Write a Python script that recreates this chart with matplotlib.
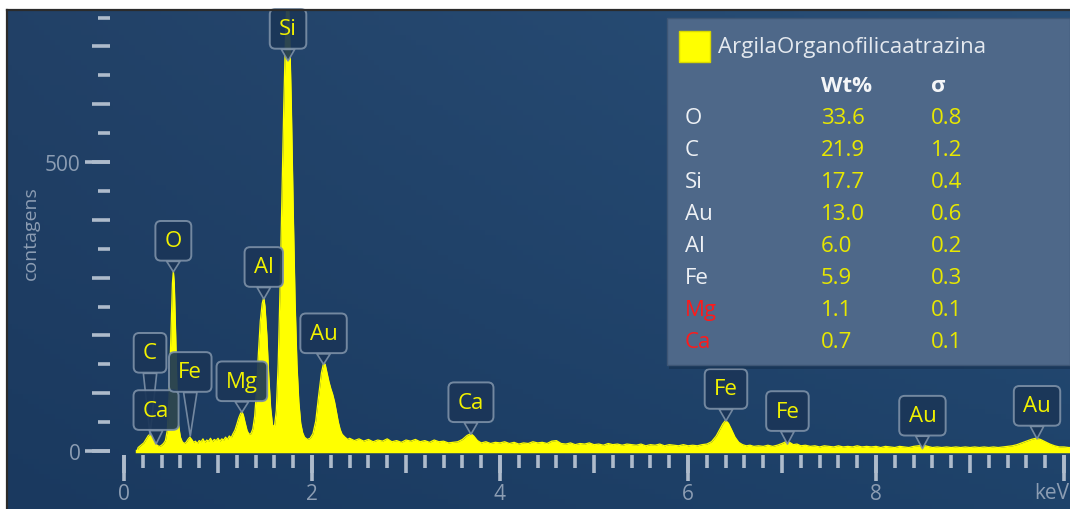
import numpy as np
import matplotlib.pyplot as plt
from matplotlib.patches import Rectangle
from matplotlib.lines import Line2D
from matplotlib.ticker import FixedLocator

plt.rcParams['font.family'] = ['Open Sans', 'DejaVu Sans']

# espectro (keV, contagens)
energy_kev = [0.14, 0.15, 0.18, 0.21, 0.24, 0.26, 0.28, 0.30, 0.32, 0.34, 0.36, 0.38,
              0.40, 0.42, 0.44, 0.46, 0.48, 0.50, 0.515, 0.525, 0.535, 0.55, 0.565, 0.58,
              0.60, 0.62, 0.64, 0.66, 0.68, 0.70, 0.72, 0.74, 0.76, 0.78, 0.80, 0.82,
              0.84, 0.86, 0.88, 0.90, 0.92, 0.94, 0.96, 0.98, 1.00, 1.02, 1.04, 1.06,
              1.08, 1.10, 1.12, 1.14, 1.16, 1.18, 1.20, 1.22, 1.24, 1.255, 1.27, 1.29,
              1.31, 1.33, 1.35, 1.37, 1.39, 1.41, 1.43, 1.45, 1.47, 1.487, 1.50, 1.52,
              1.54, 1.56, 1.58, 1.60, 1.62, 1.64, 1.66, 1.68, 1.70, 1.72, 1.74, 1.76,
              1.78, 1.80, 1.82, 1.84, 1.86, 1.88, 1.90, 1.92, 1.95, 1.98, 2.01, 2.04,
              2.07, 2.10, 2.123, 2.14, 2.16, 2.18, 2.20, 2.22, 2.24, 2.26, 2.28, 2.30,
              2.32, 2.35, 2.38, 2.40, 2.45, 2.50, 2.55, 2.60, 2.65, 2.70, 2.75, 2.80,
              2.85, 2.90, 2.95, 3.00, 3.05, 3.10, 3.15, 3.20, 3.25, 3.30, 3.35, 3.40,
              3.45, 3.50, 3.55, 3.60, 3.65, 3.69, 3.72, 3.76, 3.80, 3.85, 3.90, 3.95,
              4.00, 4.05, 4.10, 4.15, 4.20, 4.25, 4.30, 4.35, 4.40, 4.45, 4.50, 4.55,
              4.60, 4.65, 4.70, 4.75, 4.80, 4.85, 4.90, 4.95, 5.00, 5.05, 5.10, 5.15,
              5.20, 5.25, 5.30, 5.35, 5.40, 5.45, 5.50, 5.55, 5.60, 5.65, 5.70, 5.75,
              5.80, 5.85, 5.90, 5.95, 6.00, 6.05, 6.10, 6.15, 6.20, 6.25, 6.30, 6.34,
              6.37, 6.40, 6.43, 6.46, 6.50, 6.54, 6.58, 6.62, 6.66, 6.70, 6.75, 6.80,
              6.85, 6.90, 6.95, 7.00, 7.04, 7.08, 7.12, 7.16, 7.20, 7.25, 7.30, 7.35,
              7.40, 7.45, 7.50, 7.55, 7.60, 7.65, 7.70, 7.75, 7.80, 7.85, 7.90, 7.95,
              8.00, 8.05, 8.10, 8.15, 8.20, 8.25, 8.30, 8.35, 8.40, 8.45, 8.50, 8.55,
              8.60, 8.65, 8.70, 8.75, 8.80, 8.85, 8.90, 8.95, 9.00, 9.05, 9.10, 9.15,
              9.20, 9.25, 9.30, 9.35, 9.40, 9.45, 9.50, 9.55, 9.60, 9.65, 9.70, 9.75,
              9.80, 9.85, 9.90, 9.95, 10.00, 10.05, 10.10]
counts = [0, 6, 10, 14, 22, 27, 29, 22, 15, 12, 9, 8,
          10, 13, 18, 35, 95, 210, 290, 312, 290, 200, 95, 45,
          24, 16, 13, 15, 20, 24, 20, 15, 17, 13, 18, 16,
          21, 15, 19, 17, 22, 16, 20, 18, 22, 17, 21, 19,
          24, 20, 26, 23, 30, 36, 46, 57, 65, 68, 62, 48,
          35, 29, 30, 38, 60, 105, 170, 225, 255, 266, 250, 200,
          130, 75, 45, 42, 70, 150, 280, 440, 600, 730, 800, 740,
          600, 420, 260, 150, 85, 48, 32, 24, 20, 22, 30, 52,
          95, 135, 152, 150, 135, 120, 108, 98, 85, 68, 50, 37,
          29, 24, 20, 22, 18, 21, 17, 20, 16, 19, 17, 21,
          16, 18, 15, 19, 17, 20, 16, 18, 15, 19, 16, 17,
          14, 15, 16, 20, 27, 30, 26, 18, 14, 16, 13, 15,
          14, 16, 13, 15, 12, 14, 13, 16, 14, 15, 13, 17,
          18, 13, 12, 14, 11, 13, 12, 14, 11, 12, 10, 13,
          11, 12, 10, 12, 11, 10, 12, 9, 11, 10, 12, 9,
          11, 10, 9, 11, 9, 10, 9, 11, 12, 16, 26, 38,
          47, 53, 48, 38, 24, 15, 11, 9, 10, 8, 9, 8,
          10, 8, 10, 13, 16, 15, 11, 12, 9, 10, 8, 9,
          7, 9, 8, 7, 9, 7, 8, 7, 9, 7, 8, 7,
          8, 6, 8, 7, 6, 8, 7, 6, 8, 9, 10, 8,
          6, 7, 6, 7, 6, 7, 6, 7, 6, 7, 6, 7,
          6, 7, 6, 7, 8, 9, 11, 14, 17, 20, 22, 20,
          16, 12, 9, 7, 7, 6, 6]

# etiquetas dos picos: elemento, energia da linha (keV), contagens na ponta
peak_names = ['C', 'Ca', 'Fe', 'O', 'Mg', 'Al', 'Si', 'Au', 'Ca', 'Fe', 'Fe', 'Au', 'Au']
peak_kev = [0.277, 0.341, 0.705, 0.525, 1.254, 1.487, 1.745, 2.123, 3.691, 6.404, 7.058, 8.494, 9.713]
peak_tip = [28, 12, 26, 310, 67, 263, 675, 150, 29, 52, 12, 4, 21]
label_dy = [82, 34, 64, 31, 31, 32, 32, 31, 32, 32, 33, 33, 33]  # px acima da ponta

# tabela da legenda
sample_name = 'ArgilaOrganofilicaatrazina'
elements = ['O', 'C', 'Si', 'Au', 'Al', 'Fe', 'Mg', 'Ca']
wt_pct = ['33.6', '21.9', '17.7', '13.0', '6.0', '5.9', '1.1', '0.7']
sigma = ['0.8', '1.2', '0.4', '0.6', '0.2', '0.3', '0.1', '0.1']
flagged = ['Mg', 'Ca']

W, H = 1070, 510
def fx(px):
    return px / W
def fy(py):
    return 1 - py / H

YEL = '#ffff00'
TICK = '#aebbcb'
LAB = '#8c9db3'
BOXFC = '#1b3658'
BOXEC = '#7b8fa6'

fig = plt.figure(figsize=(W / 100, H / 100), dpi=100, facecolor='white')
panel = [fx(7), 0, fx(W) - fx(7), fy(11)]

# fundo azul com leve gradiente
bg = fig.add_axes(panel)
bg.axis('off')
gx = np.linspace(0, 1, 200)[None, :]
gy = np.linspace(0, 1, 100)[:, None]
left = np.array([30, 61, 99]) / 255
right = np.array([37, 76, 117]) / 255
img = left + (right - left) * (0.6 * gx + 0.4 * gy * gx)[..., None]
img = img + 0.03 * (gy[..., None] - 0.5) * np.ones_like(gx)[..., None]
bg.imshow(np.clip(img, 0, 1), extent=[0, 1, 0, 1], aspect='auto', origin='lower')
bg.set_xlim(0, 1)
bg.set_ylim(0, 1)

ax = fig.add_axes(panel, facecolor='none')
x0, kpx, y0, cpx = 124, 94.0, 452, 0.578
ax.set_xlim((7 - x0) / kpx, (W - x0) / kpx)
ax.set_ylim(-(H - y0) / cpx, (y0 - 11) / cpx)

ax.fill_between(energy_kev, counts, 0, color=YEL, lw=0, zorder=3)
ax.plot(energy_kev, counts, color=YEL, lw=0.9, zorder=3)
ax.plot([energy_kev[0], energy_kev[-1]], [0, 0], color=YEL, lw=2.5, zorder=3)

for s in ax.spines.values():
    s.set_visible(False)
ax.spines['bottom'].set_position(('data', -(456 - y0) / cpx))
ax.spines['left'].set_position(('data', (110 - x0) / kpx))
ax.xaxis.set_major_locator(FixedLocator(np.arange(0, 10.5, 1)))
ax.xaxis.set_minor_locator(FixedLocator(np.arange(0, 10.1, 0.2)))
ax.yaxis.set_major_locator(FixedLocator(np.arange(0, 760, 100)))
ax.yaxis.set_minor_locator(FixedLocator(np.arange(0, 760, 50)))
ax.tick_params(which='major', length=13, width=2.6, color=TICK, labelbottom=False, labelleft=False)
ax.tick_params(which='minor', length=9, width=2.6, color=TICK)

sx = ax.secondary_xaxis((H - 456) / (H - 11))
sx.set_xticks([0, 2, 4, 6, 8, 10], labels=['0', '2', '4', '6', '8', ''])
sx.tick_params(length=19, width=2.6, color=TICK, labelcolor=LAB, labelsize=15, pad=1)
for s in sx.spines.values():
    s.set_visible(False)

sy = ax.secondary_yaxis((110 - 7) / (W - 7))
sy.set_yticks([0, 500], labels=['0', '500'])
sy.tick_params(length=18, width=2.6, color=TICK, labelcolor=LAB, labelsize=15, pad=3)
for s in sy.spines.values():
    s.set_visible(False)

fig.text(fx(31), fy(233), 'contagens', rotation=90, color=LAB, fontsize=14,
         ha='center', va='center')
fig.text(fx(1034), fy(494), 'keV', color=LAB, fontsize=15, ha='left', va='center')

# etiquetas dos picos
for name, e, tip, dy in zip(peak_names, peak_kev, peak_tip, label_dy):
    ax.annotate(name, xy=(e, tip), xytext=(0, dy), textcoords='offset pixels',
                ha='center', va='center', color='#f2f200', fontsize=16, zorder=5,
                bbox=dict(boxstyle='round,pad=0.42,rounding_size=0.25', fc=BOXFC,
                          ec=BOXEC, lw=1.4, alpha=0.92),
                arrowprops=dict(arrowstyle='wedge,tail_width=0.6,shrink_factor=0.5',
                                fc=BOXFC, ec=BOXEC, lw=1.2, alpha=0.92,
                                shrinkA=0, shrinkB=0))

# legenda / tabela
fig.add_artist(Rectangle((fx(669), fy(370)), fx(W) - fx(667), fy(19) - fy(370),
                         transform=fig.transFigure, fc='#10233c', ec='none', alpha=0.35))
fig.add_artist(Rectangle((fx(667), fy(366)), fx(W) - fx(667), fy(19) - fy(366),
                         transform=fig.transFigure, fc='#4e6889', ec='#3e5675', lw=1))
fig.add_artist(Rectangle((fx(679), fy(63)), fx(31), fy(32) - fy(63),
                         transform=fig.transFigure, fc=YEL, ec='#d8d800', lw=1))
fig.text(fx(718), fy(48), sample_name, color='#e4e9ef', fontsize=16, va='center')
fig.text(fx(821), fy(87), 'Wt%', color='#f4f6f8', fontsize=16, fontweight='bold', va='center')
fig.text(fx(931), fy(87), 'σ', color='#f4f6f8', fontsize=16, fontweight='bold', va='center')
for i, (el, w, sg) in enumerate(zip(elements, wt_pct, sigma)):
    yy = fy(118 + 32.1 * i)
    col = '#ff1a1a' if el in flagged else '#eef1f5'
    fig.text(fx(685), yy, el, color=col, fontsize=16, va='center')
    fig.text(fx(821), yy, w, color='#e8e800', fontsize=16, va='center')
    fig.text(fx(931), yy, sg, color='#e8e800', fontsize=16, va='center')

# moldura
fig.add_artist(Line2D([fx(7), fx(7)], [0, fy(11)], color='#2b2b2b', lw=1.6))
fig.add_artist(Line2D([fx(7), 1], [fy(11), fy(11)], color='#2b2b2b', lw=1.6))

fig.savefig('out.png', dpi=100, facecolor='white')
